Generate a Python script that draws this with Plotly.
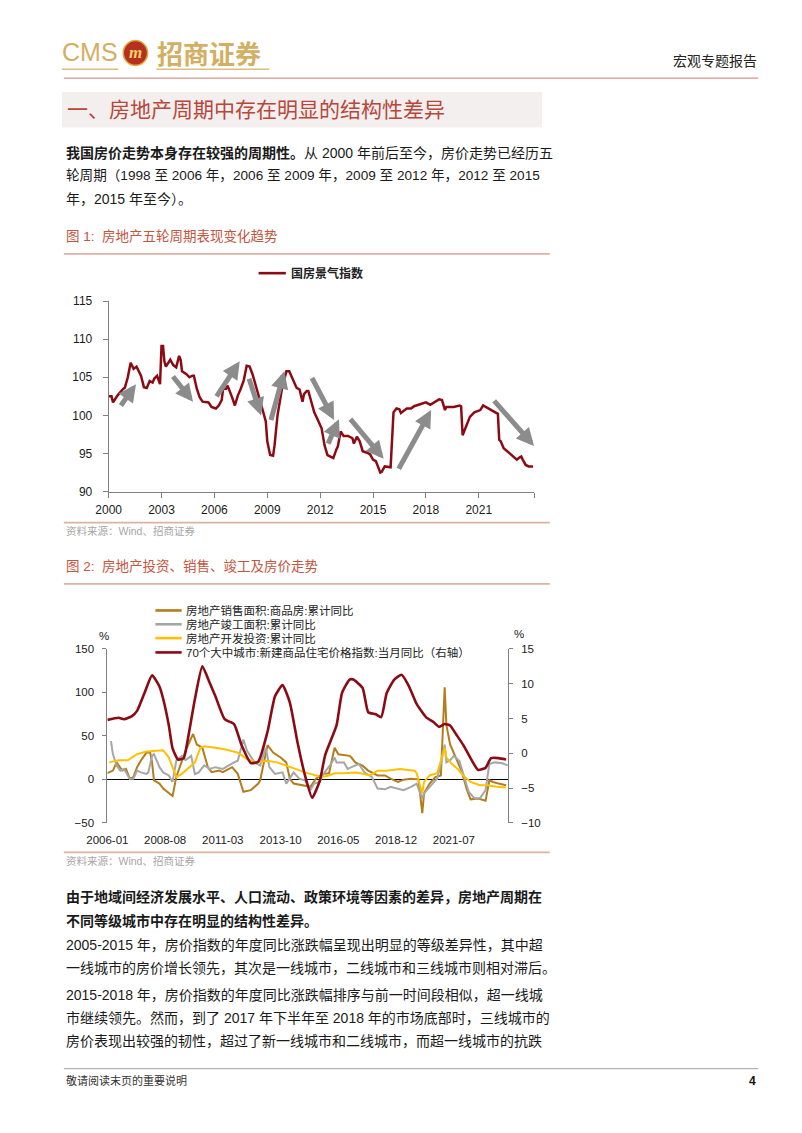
import plotly.graph_objects as go

W, H = 802, 1133
FONT = "Liberation Sans, Noto Sans CJK SC, sans-serif"
BODY = "#1a1a1a"

# ---------------- Chart 1 data: 国房景气指数 ----------------
idx_months = [
    "2000-01", "2000-03", "2000-04", "2000-07", "2000-11", "2000-12", "2001-02", "2001-04", "2001-06", "2001-08",
    "2001-11", "2002-01", "2002-03", "2002-05", "2002-07", "2002-08", "2002-10", "2002-12", "2003-01", "2003-02",
    "2003-03", "2003-04", "2003-07", "2003-09", "2003-11", "2004-01", "2004-02", "2004-03", "2004-06", "2004-08",
    "2004-10", "2004-11", "2005-01", "2005-03", "2005-05", "2005-09", "2005-11", "2006-02", "2006-04", "2006-06",
    "2006-07", "2006-09", "2006-10", "2006-11", "2007-01", "2007-03", "2007-05", "2007-07", "2007-09", "2007-11",
    "2008-01", "2008-03", "2008-06", "2008-09", "2008-12", "2009-01", "2009-03", "2009-05", "2009-06", "2009-08",
    "2009-11", "2010-02", "2010-04", "2010-06", "2010-09", "2010-11", "2011-01", "2011-02", "2011-04", "2011-05",
    "2011-07", "2011-09", "2011-11", "2012-02", "2012-04", "2012-06", "2012-08", "2012-10", "2012-12", "2013-01",
    "2013-03", "2013-05", "2013-08", "2013-11", "2013-12", "2014-02", "2014-04", "2014-06", "2014-09", "2014-11",
    "2015-01", "2015-03", "2015-06", "2015-07", "2015-09", "2016-01", "2016-03", "2016-05", "2016-07", "2016-08",
    "2016-12", "2017-03", "2017-05", "2017-09", "2018-01", "2018-04", "2018-08", "2018-10", "2018-12", "2019-02",
    "2019-03", "2019-08", "2019-12", "2020-01", "2020-02", "2020-04", "2020-07", "2020-10", "2021-02", "2021-04",
    "2021-06", "2021-09", "2022-02", "2022-03", "2022-04", "2022-06", "2022-09", "2023-01", "2023-03", "2023-05",
    "2023-06", "2023-07", "2023-09", "2023-11", "2024-02",
]
idx_values = [
    102.5, 102.5, 101.7, 102.6, 103.5, 103.6, 105.0, 106.9, 106.1, 106.4,
    105.2, 103.7, 103.6, 104.5, 104.3, 104.8, 105.2, 104.1, 109.1, 109.1,
    107.1, 106.4, 107.3, 106.6, 106.3, 107.8, 107.3, 105.8, 105.4, 105.0,
    105.2, 105.2, 103.5, 102.4, 101.8, 101.7, 101.1, 100.9, 101.3, 102.0,
    103.5, 103.5, 103.9, 103.3, 102.4, 101.3, 102.6, 103.5, 104.6, 106.5,
    106.4, 105.4, 103.5, 101.3, 99.2, 96.6, 94.8, 94.7, 96.1, 100.0,
    103.5, 105.8, 105.8, 105.0, 103.6, 103.4, 101.8, 102.8, 103.2, 103.2,
    101.7, 100.4, 99.6, 98.3, 96.1, 94.8, 94.6, 94.4, 95.5, 95.9,
    97.9, 97.3, 97.3, 97.0, 96.3, 97.2, 96.6, 95.3, 95.1, 94.9,
    94.2, 94.0, 92.5, 92.6, 93.3, 93.2, 100.4, 100.9, 100.8, 100.3,
    100.9, 100.9, 101.2, 101.5, 101.7, 101.4, 101.8, 102.1, 102.0, 100.7,
    101.1, 101.1, 101.3, 101.2, 97.4, 98.3, 99.8, 100.4, 100.7, 101.3,
    101.1, 100.8, 100.2, 96.8, 96.6, 95.7, 95.2, 94.5, 94.2, 94.5,
    94.6, 94.2, 93.5, 93.3, 93.3,
]
# trend arrows: (tail date, tail value, head date, head value)
trend_arrows = [
    ("2000-08-20", 101.1, "2001-07-20", 104.1),
    ("2003-08-01", 105.3, "2004-10-15", 101.8),
    ("2006-01-25", 102.3, "2007-06-10", 107.1),
    ("2007-12-10", 105.0, "2008-08-25", 100.0),
    ("2009-03-10", 99.2, "2009-12-20", 105.8),
    ("2011-07-01", 105.1, "2012-10-15", 99.4),
    ("2012-06-01", 96.1, "2013-01-25", 99.5),
    ("2013-08-25", 99.7, "2015-08-10", 94.3),
    ("2016-06-01", 92.8, "2018-04-20", 100.7),
    ("2021-10-20", 102.1, "2024-02-20", 96.0),
]
c1_tick_years = ["2000", "2003", "2006", "2009", "2012", "2015", "2018", "2021"]

# ---------------- Chart 2 data ----------------
sales_months = [
    "2006-01", "2006-04", "2006-06", "2006-09", "2006-11", "2007-01", "2007-03", "2007-05", "2007-07", "2007-10",
    "2007-12", "2008-01", "2008-02", "2008-05", "2008-07", "2008-10", "2008-12", "2009-02", "2009-05", "2009-07",
    "2009-11", "2010-01", "2010-04", "2010-07", "2010-09", "2011-01", "2011-03", "2011-08", "2011-11", "2012-02",
    "2012-06", "2012-10", "2012-11", "2013-01", "2013-03", "2013-06", "2013-10", "2014-01", "2014-03", "2014-05",
    "2014-10", "2015-02", "2015-05", "2015-09", "2015-12", "2016-03", "2016-05", "2016-11", "2016-12", "2017-02",
    "2017-06", "2017-09", "2018-02", "2018-06", "2018-09", "2019-01", "2019-04", "2019-08", "2019-12", "2020-02",
    "2020-03", "2020-06", "2020-09", "2020-12", "2021-02", "2021-03", "2021-05", "2021-08", "2021-11", "2022-02",
    "2022-04", "2022-08", "2022-12", "2023-02", "2023-04", "2023-07", "2023-11",
]
sales_yoy = [
    7.1, 10.1, 19.5, 10.1, 12.0, 0.7, 2.6, 13.9, 21.4, 30.8,
    30.8, 19.5, -1.1, -4.9, -10.6, -16.2, -19.2, 3.0, 21.4, 32.7,
    52.2, 40.1, 36.4, 13.9, 8.2, 10.1, 8.2, 14.0, 6.3, -14.3,
    -12.4, -4.9, -1.1, 21.4, 39.3, 30.8, 25.1, 19.5, 0.7, -4.9,
    -6.8, -8.6, 0.7, 6.3, 7.0, 36.4, 28.9, 27.0, 25.1, 19.5,
    15.7, 10.1, 4.5, 4.5, 0.7, -3.0, -0.4, 0.7, 0.0, -38.8,
    -16.2, -4.9, 2.6, 4.5, 106.0, 62.7, 40.1, 25.1, 10.1, -12.4,
    -23.0, -22.0, -24.5, -1.1, -3.0, -4.9, -6.8,
]
compl_months = [
    "2006-03", "2006-04", "2006-06", "2006-08", "2006-10", "2007-01", "2007-03", "2007-05", "2007-07", "2007-10",
    "2007-11", "2008-01", "2008-02", "2008-05", "2008-07", "2008-10", "2008-12", "2009-02", "2009-05", "2009-07",
    "2009-10", "2009-12", "2010-02", "2010-05", "2010-08", "2010-11", "2011-03", "2011-06", "2011-09", "2011-11",
    "2012-02", "2012-04", "2012-08", "2012-11", "2013-02", "2013-04", "2013-07", "2013-11", "2014-01", "2014-05",
    "2014-08", "2014-11", "2015-02", "2015-04", "2015-07", "2015-09", "2016-01", "2016-03", "2016-04", "2016-08",
    "2016-10", "2016-12", "2017-04", "2017-07", "2017-11", "2018-02", "2018-06", "2018-09", "2019-01", "2019-04",
    "2019-08", "2019-11", "2020-02", "2020-03", "2020-06", "2020-10", "2020-12", "2021-02", "2021-03", "2021-05",
    "2021-07", "2021-10", "2021-12", "2022-03", "2022-06", "2022-09", "2022-12", "2023-02", "2023-05", "2023-09",
    "2023-12",
]
compl_yoy = [
    44.0, 29.0, 16.0, 10.0, 12.0, 0.7, 0.7, 10.0, 8.0, 6.3,
    8.0, 27.0, 29.0, 14.0, 8.0, 4.5, -3.0, 22.0, 27.0, 22.0,
    27.0, 6.0, 8.0, 16.0, 12.0, 14.0, 12.0, 16.0, 19.5, 21.4,
    45.8, 32.7, 19.5, 16.0, 36.4, 14.0, 6.3, 8.0, -4.9, 8.0,
    0.7, -1.1, -12.4, -4.9, -3.0, 6.3, 17.6, 25.1, 19.5, 19.5,
    12.0, 14.0, 17.6, 8.0, 2.6, -10.5, -11.5, -8.6, -10.5, -12.4,
    -8.6, -4.9, -21.8, -16.2, -8.6, 0.7, 17.6, 40.0, 19.5, 22.0,
    27.0, 21.0, 6.3, -14.3, -21.8, -21.8, -12.4, 17.6, 19.5, 18.4,
    16.0,
]
inv_months = [
    "2006-02", "2006-07", "2006-12", "2007-05", "2007-10", "2008-03", "2008-07", "2008-10", "2008-12", "2009-02",
    "2009-05", "2009-09", "2009-12", "2010-03", "2010-05", "2010-11", "2011-04", "2011-11", "2012-04", "2012-09",
    "2013-03", "2013-08", "2014-01", "2014-06", "2014-11", "2015-05", "2015-08", "2015-12", "2016-03", "2016-08",
    "2017-02", "2017-05", "2017-10", "2018-02", "2018-07", "2019-02", "2019-10", "2019-11", "2020-02", "2020-03",
    "2020-06", "2020-10", "2021-02", "2021-03", "2021-06", "2021-09", "2021-12", "2022-04", "2022-09", "2023-01",
    "2023-06", "2023-11",
]
inv_yoy = [
    19.5, 22.0, 22.0, 29.0, 32.0, 32.7, 33.5, 25.0, 14.0, 2.6,
    6.3, 14.0, 19.5, 36.4, 38.0, 36.4, 34.5, 30.8, 23.3, 19.5,
    21.4, 19.5, 16.0, 12.0, 8.0, 4.5, 2.6, 4.5, 7.0, 7.0,
    8.0, 7.0, 4.5, 10.0, 10.0, 12.0, 10.0, 7.0, -16.2, -3.0,
    4.5, 7.0, 36.4, 25.0, 17.6, 12.0, 4.5, -3.0, -6.8, -6.8,
    -8.6, -9.4,
]
price_months = [
    "2006-01", "2006-07", "2006-10", "2007-02", "2007-05", "2007-09", "2008-01", "2008-05", "2008-07", "2008-10",
    "2008-12", "2009-03", "2009-06", "2009-08", "2009-12", "2010-04", "2010-08", "2010-11", "2011-04", "2011-09",
    "2012-01", "2012-06", "2012-10", "2013-03", "2013-07", "2013-11", "2014-03", "2014-07", "2014-11", "2015-03",
    "2015-07", "2015-10", "2016-04", "2016-07", "2016-11", "2017-01", "2017-06", "2017-09", "2018-01", "2018-04",
    "2018-07", "2018-11", "2019-03", "2019-07", "2019-11", "2020-04", "2020-08", "2020-11", "2021-02", "2021-05",
    "2021-08", "2021-12", "2022-05", "2022-08", "2022-12", "2023-03", "2023-07", "2023-11",
]
price_yoy = [
    4.8, 5.1, 4.9, 5.3, 6.1, 8.7, 11.2, 9.6, 7.8, 4.0,
    0.7, -0.9, -0.7, 1.7, 7.8, 12.5, 10.1, 8.2, 4.9, 4.2,
    1.2, -1.4, -1.2, 3.1, 8.2, 9.8, 7.3, 1.7, -3.1, -6.4,
    -4.0, -0.2, 4.0, 8.7, 10.6, 10.6, 9.4, 5.9, 5.6, 5.2,
    8.7, 10.6, 11.3, 9.6, 7.1, 5.2, 4.5, 3.8, 4.2, 4.0,
    2.8, 1.2, -1.2, -2.4, -2.1, -0.7, -0.7, -0.9,
]
c2_tick_months = ["2006-01", "2008-08", "2011-03", "2013-10", "2016-05", "2018-12", "2021-07"]

series2 = [
    ("房地产销售面积:商品房:累计同比", "#B37D1C", 2.0),
    ("房地产竣工面积:累计同比", "#A6A6A6", 2.0),
    ("房地产开发投资:累计同比", "#FFC000", 2.0),
    ("70个大中城市:新建商品住宅价格指数:当月同比（右轴）", "#8B0A14", 2.6),
]

# ---------------- helpers ----------------
def px(x):
    return x / W


def py(y):
    return 1 - y / H


def T(x, y, text, size=14, color=BODY, xanchor="left", family=FONT):
    return dict(x=px(x), y=py(y), xref="paper", yref="paper", text=text, showarrow=False,
                xanchor=xanchor, yanchor="middle", font=dict(size=size, color=color, family=family))


def L(x0, y0, x1, y1, color, width=1.0):
    return dict(type="line", xref="paper", yref="paper", x0=px(x0), y0=py(y0), x1=px(x1), y1=py(y1),
                line=dict(color=color, width=width))


fig = go.Figure()

# chart 1 line
fig.add_trace(go.Scatter(x=idx_months, y=idx_values, mode="lines", name="国房景气指数",
                         line=dict(color="#8B0A14", width=2.5), xaxis="x", yaxis="y",
                         hoverinfo="skip"))

# chart 2 lines
fig.add_trace(go.Scatter(x=sales_months, y=sales_yoy, mode="lines", name=series2[0][0],
                         line=dict(color=series2[0][1], width=series2[0][2]), xaxis="x2", yaxis="y2"))
fig.add_trace(go.Scatter(x=compl_months, y=compl_yoy, mode="lines", name=series2[1][0],
                         line=dict(color=series2[1][1], width=series2[1][2]), xaxis="x2", yaxis="y2"))
fig.add_trace(go.Scatter(x=inv_months, y=inv_yoy, mode="lines", name=series2[2][0],
                         line=dict(color=series2[2][1], width=series2[2][2]), xaxis="x2", yaxis="y2"))
fig.add_trace(go.Scatter(x=price_months, y=price_yoy, mode="lines", name=series2[3][0],
                         line=dict(color=series2[3][1], width=series2[3][2], shape="spline", smoothing=0.5),
                         xaxis="x2", yaxis="y3"))

AX = "#808080"
tickfont = dict(family=FONT, size=12, color=BODY)
tickfont2 = dict(family=FONT, size=11.5, color=BODY)

c1_y0, c1_y1 = py(490.7), py(297.7)
c2_y0, c2_y1 = py(826), py(650)
zero_pos = c2_y0 + 0.25 * (c2_y1 - c2_y0)

c2_range = ["2006-01-01", "2023-12-01"]
c2_tickvals = [m + "-01" for m in c2_tick_months]

fig.update_layout(
    width=W, height=H, margin=dict(l=0, r=0, t=0, b=0),
    paper_bgcolor="white", plot_bgcolor="white", showlegend=False,
    font=dict(family=FONT, color=BODY),
    xaxis=dict(domain=[px(90), px(527)], anchor="y", type="date",
               range=["2000-01-01", "2024-02-24"],
               tickvals=[y + "-01-01" for y in c1_tick_years] + ["2024-02-24"],
               ticktext=c1_tick_years + [""],
               showgrid=False, zeroline=False, showline=True, linecolor=AX, linewidth=1,
               ticks="outside", ticklen=5, tickcolor=AX, tickfont=tickfont, ticklabelstandoff=2),
    yaxis=dict(domain=[c1_y0, c1_y1], anchor="x", range=[90, 115], tickvals=[90, 95, 100, 105, 110, 115],
               showgrid=False, zeroline=False, showline=True, linecolor=AX, linewidth=1,
               ticks="outside", ticklen=5, tickcolor=AX, tickfont=tickfont, ticklabelstandoff=8),
    xaxis2=dict(domain=[px(88.7), px(500)], anchor="y2", type="date", range=c2_range,
                tickvals=c2_tickvals, ticktext=c2_tick_months,
                showgrid=False, zeroline=False, showline=False, ticks="",
                tickfont=tickfont2, ticklabelstandoff=9),
    yaxis2=dict(domain=[c2_y0, c2_y1], anchor="x2", range=[-50, 150], tickvals=[-50, 0, 50, 100, 150],
                showgrid=False, zeroline=True, zerolinecolor="#000000", zerolinewidth=1,
                showline=True, linecolor=AX, linewidth=1,
                ticks="outside", ticklen=4, tickcolor=AX, tickfont=tickfont2, ticklabelstandoff=6),
    yaxis3=dict(overlaying="y2", side="right", anchor="x2", range=[-10, 15],
                tickvals=[-10, -5, 0, 5, 10, 15],
                showgrid=False, zeroline=False, showline=True, linecolor=AX, linewidth=1,
                ticks="outside", ticklen=4, tickcolor=AX, tickfont=tickfont2, ticklabelstandoff=6),
    xaxis3=dict(overlaying="x2", anchor="free", position=zero_pos, type="date", range=c2_range,
                tickvals=c2_tickvals, showticklabels=False, showgrid=False, zeroline=False,
                showline=True, linecolor="#000000", linewidth=1,
                ticks="outside", ticklen=4, tickcolor="#000000"),
)

shapes = []
ann = []

# ---------- header ----------
ann.append(T(40, 46, "CMS", size=25, color="#D2AF63", family="Liberation Sans"))
shapes.append(dict(type="circle", xref="paper", yref="paper", x0=px(105), x1=px(130), y0=py(59), y1=py(34),
                   fillcolor="#B5301E", line=dict(color="#E6A53A", width=1.5)))
ann.append(T(117.5, 46.5, "<b><i>m</i></b>", size=17, color="#F7D26A", xanchor="center",
             family="Liberation Serif, serif"))
ann.append(T(138, 46, "<b>招商证券</b>", size=26, color="#D2AF63", family="Noto Sans CJK SC"))
shapes.append(L(42, 63, 100, 63, "#D9BE80", 1.5))
shapes.append(L(139, 63, 255, 63, "#D9BE80", 1.5))
ann.append(T(758, 55, "宏观专题报告", size=14, color="#222222", xanchor="right"))
shapes.append(L(44, 72, 757, 72, "#D07A6E", 1))

# ---------- section title ----------
shapes.append(dict(type="rect", xref="paper", yref="paper", x0=px(42), x1=px(535), y0=py(122), y1=py(86),
                   fillcolor="#F3EFEF", line=dict(width=0), layer="below"))
ann.append(T(45, 104, "一、房地产周期中存在明显的结构性差异", size=21, color="#B8473A"))

# ---------- paragraph 1 ----------
ann.append(T(44, 148, "<b>我国房价走势本身存在较强的周期性。</b>从 2000 年前后至今，房价走势已经历五"))
ann.append(T(44, 171, "轮周期（1998 至 2006 年，2006 至 2009 年，2009 至 2012 年，2012 至 2015", size=13.6))
ann.append(T(44, 194, "年，2015 年至今）。"))

# ---------- figure 1 ----------
TITLE_C = "#C4553E"
SEP_C = "#DCB2A2"
ann.append(T(44, 232, "图 1:  房地产五轮周期表现变化趋势", size=13.5, color=TITLE_C))
shapes.append(L(44, 250, 543, 250, SEP_C, 1.8))
shapes.append(L(244, 269.5, 272, 269.5, "#8B0A14", 2.6))
ann.append(T(275, 269.5, "<b>国房景气指数</b>", size=12, color="#222222"))

for tx, tv, hx, hv in trend_arrows:
    ann.append(dict(x=hx, y=hv, ax=tx, ay=tv, xref="x", yref="y", axref="x", ayref="y", text="",
                    showarrow=True, arrowhead=2, arrowsize=0.7, arrowwidth=5, arrowcolor="#8C8C8C",
                    standoff=0, startstandoff=0))

shapes.append(L(44, 522, 543, 522, SEP_C, 1.8))
ann.append(T(44, 531, "资料来源：Wind、招商证券", size=10.5, color="#A6A6A6"))

# ---------- figure 2 ----------
ann.append(T(44, 566, "图 2:  房地产投资、销售、竣工及房价走势", size=13.5, color=TITLE_C))
shapes.append(L(44, 584, 543, 584, SEP_C, 1.8))
leg_y = [611, 625, 639, 653.5]
for (name, color, lw), yy in zip(series2, leg_y):
    shapes.append(L(138, yy, 165, yy, color, 2.6))
    ann.append(T(167, yy, name, size=11.5, color="#222222"))
ann.append(T(85, 637, "%", size=11.5, xanchor="center"))
ann.append(T(511, 635, "%", size=11.5, xanchor="center"))

shapes.append(L(44, 856, 543, 856, SEP_C, 1.8))
ann.append(T(44, 865, "资料来源：Wind、招商证券", size=10.5, color="#A6A6A6"))

# ---------- bottom paragraphs ----------
ann.append(T(44, 901, "<b>由于地域间经济发展水平、人口流动、政策环境等因素的差异，房地产周期在</b>"))
ann.append(T(44, 925, "<b>不同等级城市中存在明显的结构性差异。</b>"))
ann.append(T(44, 950, "2005-2015 年，房价指数的年度同比涨跌幅呈现出明显的等级差异性，其中超"))
ann.append(T(44, 973, "一线城市的房价增长领先，其次是一线城市，二线城市和三线城市则相对滞后。"))
ann.append(T(44, 1000, "2015-2018 年，房价指数的年度同比涨跌幅排序与前一时间段相似，超一线城"))
ann.append(T(44, 1024, "市继续领先。然而，到了 2017 年下半年至 2018 年的市场底部时，三线城市的"))
ann.append(T(44, 1047, "房价表现出较强的韧性，超过了新一线城市和二线城市，而超一线城市的抗跌"))

# ---------- footer ----------
shapes.append(L(44, 1075, 757, 1075, "#A0A0A0", 1))
ann.append(T(44, 1087, "敬请阅读末页的重要说明", size=11, color="#333333"))
ann.append(T(757, 1087, "<b>4</b>", size=12, color="#111111", xanchor="right"))

fig.update_layout(shapes=shapes, annotations=ann)
fig.write_html("out.html", config={"displayModeBar": False},
               post_script="document.body.style.margin='0';document.body.style.padding='0';"
                           "document.documentElement.style.overflow='hidden';")
